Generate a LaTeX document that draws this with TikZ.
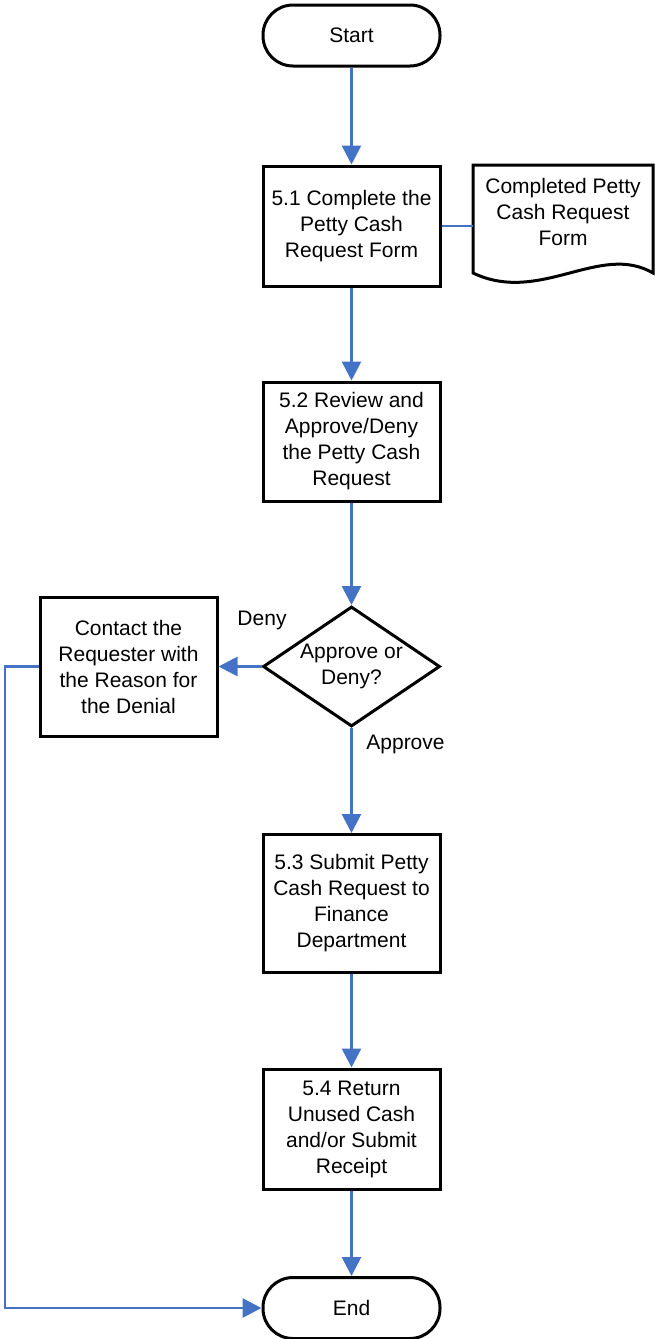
\documentclass[tikz,border=0pt]{standalone}
\usepackage{fontspec}
\setmainfont{Liberation Sans}
\usetikzlibrary{arrows.meta,shapes.geometric}
\definecolor{flowblue}{RGB}{68,114,196}
\begin{document}
\begin{tikzpicture}[x=1pt,y=-1pt,
  every node/.style={font=\fontsize{21}{26}\selectfont, align=center},
  procbox/.style={draw=black, line width=3pt, rectangle, minimum width=177pt, inner sep=0pt},
  termbox/.style={draw=black, line width=3pt, rectangle, rounded corners=30pt, minimum width=177pt, minimum height=61pt, inner sep=0pt},
  decbox/.style={draw=black, line width=3pt, diamond, minimum width=177pt, minimum height=120pt, inner sep=0pt, aspect=1.475},
  flow/.style={draw=flowblue, line width=2.8pt, -{Triangle[length=19pt,width=19pt]}},
  plainflow/.style={draw=flowblue, line width=2.8pt},
  lbl/.style={font=\fontsize{21}{26}\selectfont}
]
\useasboundingbox (0,0) rectangle (655,1339);

\node[termbox] (start) at (351.5,35.5) {Start};
\node[procbox, minimum height=120pt] (s51) at (351.5,226) {5.1 Complete the\\Petty Cash\\Request Form};
\node[procbox, minimum height=119pt] (s52) at (351.5,441.5) {5.2 Review and\\Approve/Deny\\the Petty Cash\\Request};
\node[decbox] (dec) at (351.5,666.5) {};
\node at (351.5,666.5) {Approve or\\Deny?};
\node[procbox, minimum height=139pt] (contact) at (128.5,666.5) {Contact the\\Requester with\\the Reason for\\the Denial};
\node[procbox, minimum height=138pt] (s53) at (351.5,903.5) {5.3 Submit Petty\\Cash Request to\\Finance\\Department};
\node[procbox, minimum height=120pt] (s54) at (351.5,1129) {5.4 Return\\Unused Cash\\and/or Submit\\Receipt};
\node[termbox] (end) at (351.5,1308) {End};

% document shape
\draw[line width=3pt, line join=miter] (473,273) -- (473,165) -- (653,165) -- (653,273)
  .. controls (600,242) and (540,305) .. (473,273) -- cycle;
\node (doc) at (563,212) {Completed Petty\\Cash Request\\Form};
\coordinate (docleft) at (473,226);

\node[lbl] (deny) at (262,620) {Deny};
\node[lbl] (approve) at (405.5,744) {Approve};

\coordinate (corner1) at (5,666.5);
\coordinate (corner2) at (5,1308);

\draw[flow] (start) -- (s51);
\draw[plainflow] (s51.east) -- (docleft);
\draw[flow] (s51) -- (s52);
\draw[flow] (s52) -- (dec.north);
\draw[flow] (dec.west) -- (contact.east);
\draw[flow] (dec.south) -- (s53);
\draw[flow] (s53) -- (s54);
\draw[flow] (s54) -- (end);
\draw[flow] (contact.west) -- (corner1) -- (corner2) -- (end.west);
\end{tikzpicture}
\end{document}
